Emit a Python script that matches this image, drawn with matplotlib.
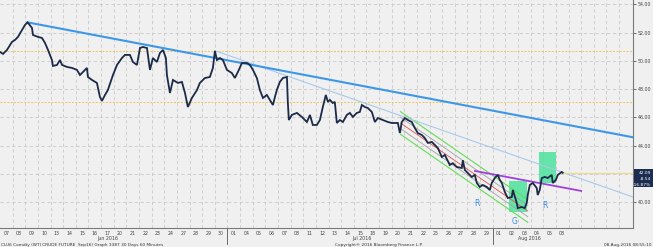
import matplotlib
matplotlib.use("Agg")
import matplotlib.pyplot as plt
from matplotlib.patches import Rectangle
import numpy as np

# ---------------- data ----------------
day_labels = ["07", "08", "09", "10", "13", "14", "15", "16", "17", "20", "21", "22", "23", "24",
              "27", "28", "29", "30",
              "01", "04", "05", "06", "07", "08", "11", "12", "13", "14", "15", "18", "19", "20",
              "21", "22", "25", "26", "27", "28", "29",
              "01", "02", "03", "04", "05", "08"]
month_labels = ["Jun 2016", "Jul 2016", "Aug 2016"]
month_label_pos = [8.5, 28.6, 41.9]
month_breaks = [18, 39]

# time in trading-day units (0 = start of 07 Jun) and WTI price
t = [0.00, 0.24, 0.55, 0.95, 1.19, 1.42, 1.74, 1.98, 2.18, 2.53, 2.61, 3.01, 3.32, 3.56, 3.80,
     4.11, 4.19, 4.51, 4.75, 4.91, 5.30, 5.70, 6.09, 6.33, 6.57, 6.88, 6.96, 7.28, 7.67, 7.91,
     8.07, 8.31, 8.54, 8.94, 9.26, 9.65, 9.89, 10.28, 10.52, 10.84, 11.08, 11.31, 11.63, 11.87,
     12.10, 12.42, 12.66, 12.90, 13.13, 13.21, 13.45, 13.69, 14.08, 14.40, 14.64, 14.87, 15.19,
     15.59, 15.82, 16.22, 16.61, 16.85, 17.01, 17.17, 17.41, 17.64, 17.96, 18.35, 18.59, 18.83,
     19.15, 19.54, 19.78, 20.02, 20.33, 20.57, 20.81, 21.12, 21.36, 21.60, 21.76, 21.91, 22.15,
     22.39, 22.71, 22.78, 22.86, 23.10, 23.50, 23.89, 24.29, 24.53, 24.76, 25.08, 25.32, 25.55,
     25.79, 25.95, 26.11, 26.34, 26.50, 26.66, 26.90, 27.14, 27.45, 27.69, 27.93, 28.24, 28.48,
     28.64, 28.88, 29.11, 29.43, 29.67, 29.91, 30.30, 30.70, 31.01, 31.25, 31.49, 31.65, 31.80,
     32.04, 32.28, 32.59, 32.83, 33.07, 33.39, 33.62, 33.86, 34.18, 34.41, 34.65, 34.97, 35.21,
     35.60, 35.84, 36.16, 36.55, 36.63, 36.79, 37.03, 37.34, 37.58, 37.74, 37.97, 38.21, 38.53,
     38.77, 38.92, 39.16, 39.40, 39.56, 39.72, 39.95, 40.19, 40.51, 40.59, 40.90, 40.98, 41.30,
     41.53, 41.69, 41.77, 41.93, 42.17, 42.48, 42.56, 42.72, 42.88, 43.12, 43.35, 43.67, 43.75,
     43.99, 44.15, 44.46, 44.54]
price = [50.63, 50.49, 50.77, 51.34, 51.48, 51.69, 52.18, 52.54, 52.72, 52.33, 51.83, 51.69, 51.62,
         51.27, 50.77, 50.06, 49.64, 49.71, 50.06, 49.71, 49.57, 49.50, 49.36, 49.00, 49.22, 49.50,
         48.86, 48.65, 48.44, 47.45, 47.17, 47.59, 47.94, 49.00, 49.71, 50.20, 50.42, 50.42, 49.92,
         49.71, 50.91, 50.98, 50.91, 49.36, 50.20, 49.92, 50.56, 50.77, 50.20, 49.00, 47.73, 48.65,
         48.44, 48.51, 47.73, 46.74, 47.38, 47.94, 48.44, 48.79, 48.86, 49.50, 50.70, 50.06, 50.20,
         50.06, 49.36, 49.14, 48.79, 49.22, 49.85, 49.85, 49.71, 49.36, 48.79, 47.94, 47.38, 47.59,
         47.24, 46.88, 47.45, 47.94, 48.51, 48.79, 48.86, 47.10, 45.82, 46.18, 46.32, 46.04, 45.68,
         46.18, 45.47, 45.47, 45.82, 46.74, 47.59, 47.10, 47.24, 47.02, 47.10, 45.61, 45.82, 45.68,
         46.18, 46.32, 46.04, 46.32, 46.39, 46.88, 46.74, 46.67, 46.39, 45.68, 45.96, 45.82, 45.68,
         45.61, 45.61, 45.61, 44.90, 45.68, 45.96, 45.82, 45.68, 45.26, 44.90, 44.76, 44.55, 44.20,
         44.27, 44.06, 43.85, 43.21, 43.35, 42.64, 42.77, 42.50, 42.43, 42.98, 42.29, 42.08, 41.80,
         41.94, 41.37, 41.09, 41.23, 41.09, 40.88, 41.37, 41.72, 41.94, 41.58, 41.37, 40.74, 40.31,
         40.38, 40.88, 39.96, 39.60, 39.67, 39.60, 39.96, 40.52, 41.23, 41.37, 41.02, 40.52, 40.88,
         41.72, 41.80, 41.72, 41.94, 41.37, 41.58, 41.94, 42.15, 42.09]

last_price = 42.09
net_change = "-8.54"
pct_change = "-16.87%"

# annotations (trendlines, levels, boxes)
major_trend = ([2.18, 50.1], [52.72, 44.60])
minor_trend = ([17.0, 50.1], [50.72, 40.38])
purple_line = ([37.6, 46.0], [42.22, 40.81])
levels = [50.70, 47.07]
channel_t = [31.7, 41.77]
channel_mid = [45.61, 39.39]
channel_outer = 0.80
channel_inner = 0.40
boxes = [(40.27, 41.69, 39.32, 41.51), (42.64, 43.99, 41.37, 43.56)]
letters = [("R", 37.74, 39.89), ("G", 40.74, 38.68), ("R", 43.12, 39.75)]

ytick_vals = [40, 42, 44, 46, 48, 50, 52, 54]
ytick_labels = ["40.00", "", "44.00", "46.00", "48.00", "50.00", "52.00", "54.00"]

# ---------------- figure ----------------
W, H = 653, 247
bg = "#f0f0f0"
fig = plt.figure(figsize=(W / 100, H / 100), dpi=100, facecolor=bg)
ax = fig.add_axes([0, 1 - 228 / H, 633 / W, 228 / H], facecolor=bg)
ax.set_xlim(0, 50.1)
ax.set_ylim(38.19, 54.30)

grid_c = "#c9c9c9"
for d in range(1, 50):
    ax.axvline(d, color=grid_c, lw=0.6, ls=(0, (4, 3)), zorder=1)
for v in ytick_vals:
    ax.axhline(v, color=grid_c, lw=0.6, ls=(0, (4, 3)), zorder=1)

for lv in levels:
    ax.axhline(lv, color="#f2c35a", lw=0.7, ls=(0, (2, 1.5)), zorder=2)

# regression channel
cm = np.array(channel_mid)
ax.plot(channel_t, cm, color="#e05050", lw=0.6, zorder=3)
for off in (channel_inner, -channel_inner):
    ax.plot(channel_t, cm + off, color="#a0a0a0", lw=0.6, zorder=3)
for off in (channel_outer, -channel_outer):
    ax.plot(channel_t, cm + off, color="#66dd55", lw=0.8, zorder=3)

# green boxes
for x0, x1, y0, y1 in boxes:
    ax.add_patch(Rectangle((x0, y0), x1 - x0, y1 - y0, facecolor="#55e3a0",
                           edgecolor="none", alpha=0.9, zorder=2.5))

ax.plot(minor_trend[0], minor_trend[1], color="#a9c9ec", lw=0.8, zorder=3)
ax.plot(major_trend[0], major_trend[1], color="#3d97e8", lw=1.5, zorder=3)
ax.plot(purple_line[0], purple_line[1], color="#a33de0", lw=1.3, zorder=3)

# last price line
ax.plot([t[-1], 50.1], [last_price, last_price], color="#f0d890", lw=0.9, zorder=3)

# price series
ax.plot(t, price, color="#1b2a48", lw=1.3, zorder=4, solid_joinstyle="miter")

for s, xx, yy in letters:
    ax.text(xx, yy, s, color="#3a8ee6", fontsize=5.5, ha="center", va="center", zorder=5)

# axes styling
for sp in ("top", "left"):
    ax.spines[sp].set_visible(False)
for sp in ("right", "bottom"):
    ax.spines[sp].set_color("#7a7a7a")
    ax.spines[sp].set_linewidth(0.8)

ax.yaxis.tick_right()
ax.set_yticks(ytick_vals)
ax.set_yticklabels(ytick_labels)
ax.tick_params(axis="y", direction="out", length=2, width=0.6, color="#555555",
               labelsize=3.4, labelcolor="#444444", pad=1.5)

ax.set_xticks(np.arange(len(day_labels)) + 0.5)
ax.set_xticklabels(day_labels)
ax.tick_params(axis="x", length=0, labelsize=3.4, labelcolor="#444444", pad=2)

for mb in month_breaks:
    ax.plot([mb, mb], [0, -0.07], transform=ax.get_xaxis_transform(), color="#555555",
            lw=0.6, clip_on=False)
for lab, pos in zip(month_labels, month_label_pos):
    ax.text(pos, -10 / 228, lab, transform=ax.get_xaxis_transform(), fontsize=3.4,
            color="#444444", ha="center", va="center")

# last price box
bx0, by0 = 634 / W, 1 - 187 / H
fig.patches.append(Rectangle((bx0, by0), 19 / W, 18 / H, transform=fig.transFigure,
                             facecolor="#1c2d4f", edgecolor="none"))
for i, s in enumerate([f"{last_price:.2f}", net_change, pct_change]):
    fig.text(651 / W, 1 - (172.5 + 6 * i) / H, s, color="white", fontsize=3.2,
             ha="right", va="center")

# footer
fig.text(1 / W, 1 - 244.5 / H, "CLU6 Comdty (WTI CRUDE FUTURE  Sep16) Graph 3387 30 Days 60 Minutes",
         fontsize=3.1, color="#333333", ha="left", va="center")
fig.text(379 / W, 1 - 244.5 / H, "Copyright\u00ae 2016 Bloomberg Finance L.P.",
         fontsize=3.1, color="#333333", ha="center", va="center")
fig.text(651 / W, 1 - 244.5 / H, "08-Aug-2016 08:55:10",
         fontsize=3.1, color="#333333", ha="right", va="center")

fig.savefig("out.png", dpi=100, facecolor=bg)
